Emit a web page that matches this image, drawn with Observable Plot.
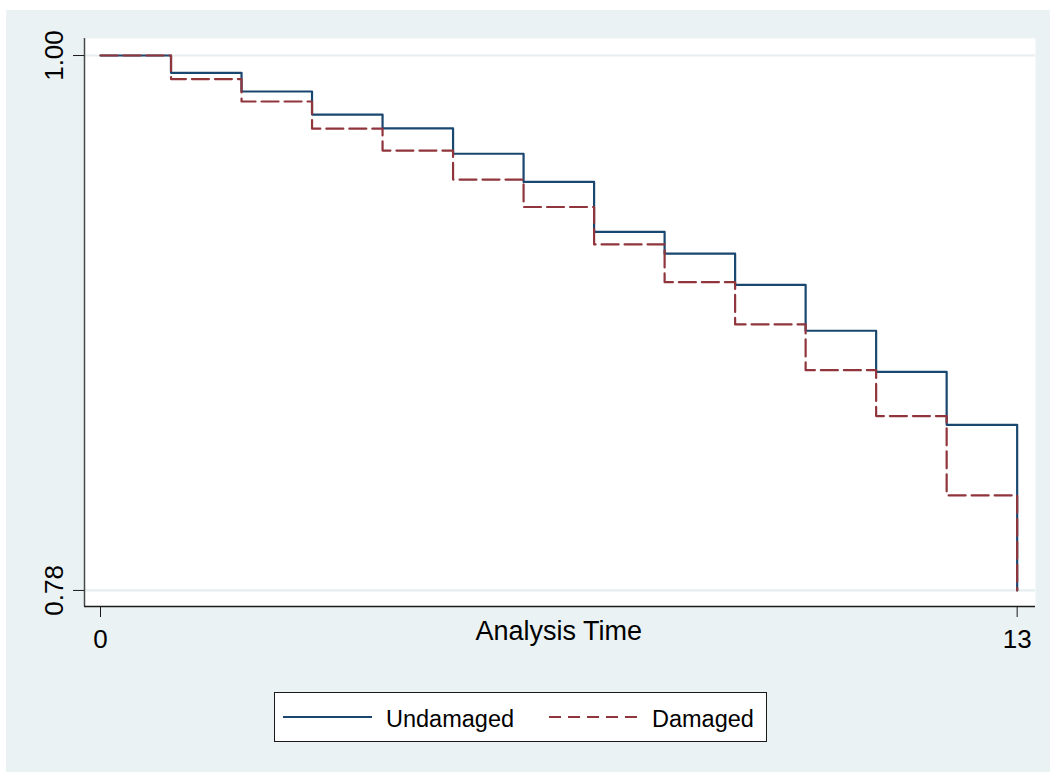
<!DOCTYPE html>
<html>
<head>
<meta charset="utf-8">
<script src="https://cdn.jsdelivr.net/npm/d3@7"></script>
<script src="https://cdn.jsdelivr.net/npm/@observablehq/plot@0.6"></script>
<style>
  html, body { margin: 0; padding: 0; background: #ffffff; }
  #wrap { position: relative; width: 1050px; height: 772px; overflow: hidden; font-family: "Liberation Sans", Arial, sans-serif; }
  #bg { position: absolute; left: 6px; top: 10px; width: 1044px; height: 762px; background: #EAF2F3; }
  #chart { position: absolute; left: 0; top: 0; }
  #legend { position: absolute; left: 274px; top: 692px; width: 491px; height: 48px; background: #ffffff; border: 1.3px solid #1a1a1a; }
</style>
</head>
<body>
<div id="wrap">
  <div id="bg"></div>
  <div id="chart"></div>
  <div id="legend"></div>
</div>
<script>
// ---- data ----
const times = [0, 1, 2, 3, 4, 5, 6, 7, 8, 9, 10, 11, 12, 13];
const undamaged = [1.0, 0.9929, 0.9852, 0.9757, 0.9700, 0.9596, 0.9480, 0.9275, 0.9185, 0.9057, 0.8868, 0.8699, 0.8481, 0.78];
const damaged   = [1.0, 0.9903, 0.9811, 0.9699, 0.9609, 0.9490, 0.9377, 0.9223, 0.9068, 0.8894, 0.8706, 0.8517, 0.8191, 0.78];
const seriesNames = ["Undamaged", "Damaged"];
const xTicks = [0, 13];
const yTicks = [0.78, 1.00];
const xTitle = "Analysis Time";

const colors = {Undamaged: "#1A476F", Damaged: "#90353B"};
const font = "Liberation Sans, Arial, sans-serif";

const uData = times.map((t, i) => ({t, s: undamaged[i]}));
const dData = times.map((t, i) => ({t, s: damaged[i]}));

const xDomain = [-0.227, 13.26];
const yDomain = [0.7734, 1.007];

const chart = Plot.plot({
  width: 1050,
  height: 772,
  marginLeft: 84,
  marginRight: 15,
  marginTop: 38,
  marginBottom: 166,
  style: {background: "transparent", overflow: "visible", fontFamily: font},
  x: {domain: xDomain, axis: null},
  y: {domain: yDomain, axis: null},
  marks: [
    Plot.frame({fill: "#ffffff", stroke: "none"}),
    Plot.ruleY(yTicks, {stroke: "#E6EEF0", strokeWidth: 2.2}),
    Plot.ruleX([xDomain[0]], {stroke: "#4a4a4a", strokeWidth: 1.5}),
    Plot.ruleY([yDomain[0]], {stroke: "#1a1a1a", strokeWidth: 1.3}),
    Plot.axisY(yTicks, {anchor: "left", tickSize: 11, tickFormat: () => "", label: null, stroke: "#1a1a1a"}),
    Plot.axisX(xTicks, {anchor: "bottom", tickSize: 11, tickFormat: () => "", label: null, stroke: "#1a1a1a"}),
    Plot.text(yTicks, {x: xDomain[0], y: d => d, text: d => d3.format(".2f")(d), rotate: -90, dx: -30, fontSize: 26, fill: "#000", textAnchor: "middle"}),
    Plot.text(xTicks, {x: d => d, y: yDomain[0], text: d => String(d), dy: 33, fontSize: 26, fill: "#000"}),
    Plot.text([xTitle], {x: 6.5, y: yDomain[0], text: d => d, dy: 25, fontSize: 27, fill: "#000"}),
    Plot.line(uData, {x: "t", y: "s", curve: "step-after", stroke: colors.Undamaged, strokeWidth: 2.2}),
    Plot.line(dData, {x: "t", y: "s", curve: "step-after", stroke: colors.Damaged, strokeWidth: 2.2, strokeDasharray: "17,6"})
  ]
});
document.getElementById("chart").appendChild(chart);

// ---- legend ----
const lg = d3.select("#legend").append("svg")
  .attr("width", 491).attr("height", 48)
  .style("display", "block");
const items = [
  {name: seriesNames[0], x1: 8, x2: 97, tx: 111, dash: null},
  {name: seriesNames[1], x1: 274, x2: 363, tx: 377, dash: "12,7"}
];
items.forEach(it => {
  lg.append("line").attr("x1", it.x1).attr("x2", it.x2).attr("y1", 24).attr("y2", 24)
    .attr("stroke", colors[it.name]).attr("stroke-width", 2.2)
    .attr("stroke-dasharray", it.dash);
  lg.append("text").attr("x", it.tx).attr("y", 34).text(it.name)
    .attr("font-family", font).attr("font-size", 23.5).attr("fill", "#000");
});
</script>
</body>
</html>
